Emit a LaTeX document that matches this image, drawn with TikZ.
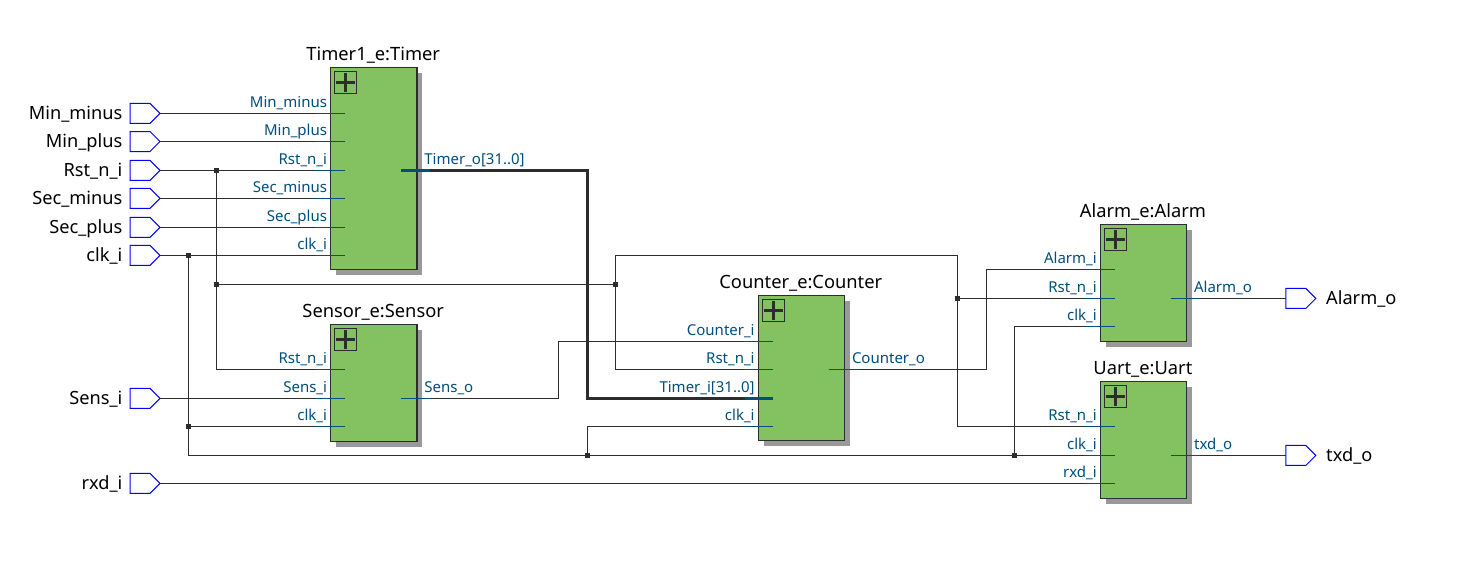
\documentclass[tikz,border=0pt]{standalone}
\usepackage{fontspec}
\setmainfont{Noto Sans}
\usetikzlibrary{shapes.symbols}
\definecolor{wirecol}{HTML}{2D2D2D}
\definecolor{stubcol}{HTML}{004E7C}
\definecolor{blockgreen}{HTML}{84C160}
\definecolor{shadowgrey}{HTML}{999999}
\tikzset{
  wire/.style={draw=wirecol,line width=1.2pt},
  buswire/.style={draw=wirecol,line width=3pt},
  stub/.style={draw=stubcol,line width=1.2pt},
  busstub/.style={draw=stubcol,line width=3pt},
  junction/.style={fill=wirecol,inner sep=0pt,minimum size=5pt,rectangle},
  portshape/.style={signal,signal to=east,signal pointer angle=90,draw=blue,line width=1pt,fill=white,
    minimum width=30pt,minimum height=20pt,inner sep=0pt,outer sep=0pt},
  porttext/.style={font=\fontsize{18.2}{20}\selectfont,text=black,inner sep=0pt},
  pintext/.style={font=\fontsize{15}{16}\selectfont,text=stubcol,inner sep=0pt},
  titletext/.style={font=\fontsize{18.3}{20}\selectfont,text=black,inner sep=0pt},
  blockbody/.style={draw=wirecol,line width=1.2pt,fill=blockgreen,inner sep=0pt,outer sep=0pt},
  blockshadow/.style={fill=shadowgrey,draw=none,inner sep=0pt},
  iconbox/.style={draw=wirecol,line width=1pt,inner sep=0pt,minimum size=22pt},
  plusbar/.style={draw=wirecol,line width=3pt},
}
% name, y, text
\newcommand{\inport}[3]{%
  \node[portshape] (#1) at (140,#2) {};
  \node[porttext,anchor=base east] (#1-t) at (122.5,#2+5.7) {#3};}
\newcommand{\outport}[3]{%
  \node[portshape] (#1) at (1295.8,#2) {};
  \node[porttext,anchor=base west] (#1-t) at (1326,#2+6) {#3};}
% name, left, top, bottom, title
\newcommand{\block}[5]{%
  \path[blockshadow] (#2+5.5,#3+5.5) rectangle (#2+91.7,#4+5.5);
  \node[blockbody,anchor=north west,minimum width=86.2pt,minimum height=#4pt-#3pt] (#1) at (#2,#3) {};
  \node[titletext,anchor=base] (#1-title) at (#2+42.5,#3-7) {#5};
  \node[iconbox,anchor=north west] (#1-icon) at (#2+3.6,#3+3.6) {};
  \draw[plusbar] (#1-icon.center) ++(-9.5,0) -- ++(19,0);
  \draw[plusbar] (#1-icon.center) ++(0,-9.5) -- ++(0,19);}
% pin name, block left, y, text : coordinate at the inner end
\newcommand{\inpin}[4]{%
  \coordinate (#1) at (#2+14.5,#3);
  \node[pintext,anchor=base east] (#1-t) at (#2-3.5,#3-6.3) {#4};}
\newcommand{\outpin}[4]{%
  \coordinate (#1) at (#2+70.5,#3);
  \node[pintext,anchor=base west] (#1-t) at (#2+93.5,#3-6.3) {#4};}
\newcommand{\instub}[1]{\draw[stub] (#1) -- ++(-30,0);}
\newcommand{\outstub}[1]{\draw[stub] (#1) -- ++(29,0);}
\begin{document}
\begin{tikzpicture}[x=1pt,y=-1pt]
\useasboundingbox (0,0) rectangle (1465,579);

\block{Timer}{330.7}{67.4}{269.3}{Timer1\_e:Timer}
\block{Sensor}{330.7}{324.4}{441.4}{Sensor\_e:Sensor}
\block{Counter}{758.3}{295.4}{440.4}{Counter\_e:Counter}
\block{Alarm}{1100.4}{224.4}{341.4}{Alarm\_e:Alarm}
\block{Uart}{1100.4}{381.4}{498.4}{Uart\_e:Uart}

\inport{pMinm}{113.4}{Min\_minus}
\inport{pMinp}{141.5}{Min\_plus}
\inport{pRst}{170.4}{Rst\_n\_i}
\inport{pSecm}{198.4}{Sec\_minus}
\inport{pSecp}{227.4}{Sec\_plus}
\inport{pClk}{255.4}{clk\_i}
\inport{pSens}{398.4}{Sens\_i}
\inport{pRxd}{483.4}{rxd\_i}
\outport{pAlarm}{298.4}{Alarm\_o}
\outport{pTxd}{455.4}{txd\_o}

\inpin{TMinm}{330.7}{113.4}{Min\_minus}
\inpin{TMinp}{330.7}{141.5}{Min\_plus}
\inpin{TRst}{330.7}{170.4}{Rst\_n\_i}
\inpin{TSecm}{330.7}{198.4}{Sec\_minus}
\inpin{TSecp}{330.7}{227.4}{Sec\_plus}
\inpin{TClk}{330.7}{255.4}{clk\_i}
\outpin{TOut}{330.7}{170.4}{Timer\_o[31..0]}
\inpin{SRst}{330.7}{369.4}{Rst\_n\_i}
\inpin{SSens}{330.7}{398.4}{Sens\_i}
\inpin{SClk}{330.7}{426.4}{clk\_i}
\outpin{SOut}{330.7}{398.4}{Sens\_o}
\inpin{CCnt}{758.3}{341.4}{Counter\_i}
\inpin{CRst}{758.3}{369.4}{Rst\_n\_i}
\inpin{CTim}{758.3}{398.4}{Timer\_i[31..0]}
\inpin{CClk}{758.3}{426.4}{clk\_i}
\outpin{COut}{758.3}{369.4}{Counter\_o}
\inpin{AAl}{1100.4}{269.4}{Alarm\_i}
\inpin{ARst}{1100.4}{298.4}{Rst\_n\_i}
\inpin{AClk}{1100.4}{326.4}{clk\_i}
\outpin{AOut}{1100.4}{298.4}{Alarm\_o}
\inpin{URst}{1100.4}{426.4}{Rst\_n\_i}
\inpin{UClk}{1100.4}{455.4}{clk\_i}
\inpin{URxd}{1100.4}{483.4}{rxd\_i}
\outpin{UOut}{1100.4}{455.4}{txd\_o}

% junctions
\node[junction] (jR1) at (216.5,170.4) {};
\node[junction] (jR2) at (216.5,284.4) {};
\node[junction] (jR3) at (615.5,284.4) {};
\node[junction] (jR4) at (957.5,298.4) {};
\node[junction] (jC1) at (188.5,255.4) {};
\node[junction] (jC2) at (188.5,426.4) {};
\node[junction] (jC3) at (587.5,455.4) {};
\node[junction] (jC4) at (1014.5,455.4) {};
\coordinate (kRstTop) at (957.5,255.4);
\coordinate (kBus) at (587.5,398.4);
\coordinate (kSens) at (558.5,341.4);
\coordinate (kCnt) at (986.5,269.4);

% wires
\draw[wire] (pMinm.east) -- (TMinm);
\draw[wire] (pMinp.east) -- (TMinp);
\draw[wire] (pRst.east) -- (TRst);
\draw[wire] (pSecm.east) -- (TSecm);
\draw[wire] (pSecp.east) -- (TSecp);
\draw[wire] (pClk.east) -- (TClk);
\draw[wire] (pSens.east) -- (SSens);
\draw[wire] (pRxd.east) -- (URxd);
\draw[wire] (jR1.center) |- (SRst);
\draw[wire] (jR2.center) -- (jR3.center);
\draw[wire] (jR3.center) |- (CRst);
\draw[wire] (jR3.center) |- (kRstTop) |- (URst);
\draw[wire] (jR4.center) -- (ARst);
\draw[wire] (jC1.center) |- (UClk);
\draw[wire] (jC2.center) -- (SClk);
\draw[wire] (jC3.center) |- (CClk);
\draw[wire] (jC4.center) |- (AClk);
\draw[wire] (SOut) -| (kSens) -- (CCnt);
\draw[wire] (COut) -| (kCnt) -- (AAl);
\draw[wire] (AOut) -- (pAlarm.west);
\draw[wire] (UOut) -- (pTxd.west);
\draw[buswire] (TOut) -| (kBus) -- (CTim);

% blue pin stubs
\instub{TMinm}\instub{TMinp}\instub{TRst}\instub{TSecm}\instub{TSecp}\instub{TClk}
\instub{SRst}\instub{SSens}\instub{SClk}
\instub{CCnt}\instub{CRst}\instub{CClk}
\instub{AAl}\instub{ARst}\instub{AClk}
\instub{URst}\instub{UClk}\instub{URxd}
\outstub{SOut}\outstub{COut}\outstub{AOut}\outstub{UOut}
\draw[busstub] (CTim) -- ++(-28,0);
\draw[busstub] (TOut) -- ++(29,0);
\end{tikzpicture}
\end{document}
